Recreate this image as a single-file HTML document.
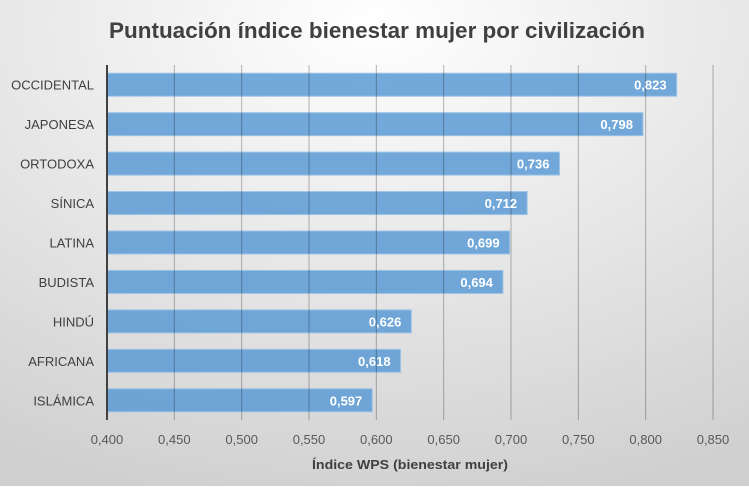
<!DOCTYPE html>
<html><head><meta charset="utf-8"><style>
html,body{margin:0;padding:0;}
body{width:749px;height:486px;overflow:hidden;font-family:"Liberation Sans",sans-serif;}
</style></head><body>
<svg id="chart" width="749" height="486" xmlns="http://www.w3.org/2000/svg">
<defs>
<radialGradient id="bg" cx="0.5" cy="0.05" r="1.0">
<stop offset="0" stop-color="#ffffff"/><stop offset="0.4" stop-color="#ececec"/><stop offset="1" stop-color="#d0d0d0"/>
</radialGradient>
</defs>
<rect x="0" y="0" width="749" height="486" fill="url(#bg)"/>
<text x="377" y="38" text-anchor="middle" font-size="22" font-weight="bold" fill="#404040" textLength="536" lengthAdjust="spacingAndGlyphs">Puntuación índice bienestar mujer por civilización</text>
<g id="grid"></g><g id="bars"></g><g id="labels"></g>
<text x="410" y="469" text-anchor="middle" font-size="13" font-weight="bold" fill="#404040" textLength="196" lengthAdjust="spacingAndGlyphs">Índice WPS (bienestar mujer)</text>
</svg>
<script>
const categories=["OCCIDENTAL","JAPONESA","ORTODOXA","SÍNICA","LATINA","BUDISTA","HINDÚ","AFRICANA","ISLÁMICA"];
const values=[0.823,0.798,0.736,0.712,0.699,0.694,0.626,0.618,0.597];
const ticks=[0.400,0.450,0.500,0.550,0.600,0.650,0.700,0.750,0.800,0.850];
const NS="http://www.w3.org/2000/svg";
const x0=107,x1=713,vmin=0.4,vmax=0.85,plotTop=65,plotBot=420;
const xs=v=>x0+(v-vmin)/(vmax-vmin)*(x1-x0);
const band=(plotBot-plotTop)/categories.length;
const yc=i=>plotTop+band*(i+0.5);
function mk(t,a,p){const e=document.createElementNS(NS,t);for(const k in a)e.setAttribute(k,a[k]);p.appendChild(e);return e;}
const fmt=v=>v.toFixed(3).replace('.',',');
const grid=document.getElementById('grid'),bars=document.getElementById('bars'),labels=document.getElementById('labels');
ticks.forEach((t,i)=>{
 const l=mk('line',{x1:xs(t),x2:xs(t),y1:plotTop,y2:plotBot,stroke:'rgba(0,0,0,0.28)','stroke-width':1},labels);
 
 
 const tx=mk('text',{x:xs(t),y:444,'text-anchor':'middle','font-size':13,fill:'#595959'},grid);
 tx.textContent=fmt(t);
 
 
});
categories.forEach((c,i)=>{
 const r=mk('rect',{x:x0,y:yc(i)-11.5,width:xs(values[i])-x0,height:23,fill:'#5b9bd5','fill-opacity':0.85,stroke:'#9dc3e6','stroke-width':1},bars);
 
 
 const v=mk('text',{x:xs(values[i])-10,y:yc(i)+5,'text-anchor':'end','font-size':13,'font-weight':'bold',fill:'#ffffff'},labels);
 v.textContent=fmt(values[i]);
 
 
 const cl=mk('text',{x:94,y:yc(i)+5,'text-anchor':'end','font-size':13,fill:'#404040'},grid);
 cl.textContent=c;
 
 
});
const ax=mk('line',{x1:x0,x2:x0,y1:plotTop,y2:plotBot,stroke:'#404040','stroke-width':2},labels);


</script>
</body></html>
